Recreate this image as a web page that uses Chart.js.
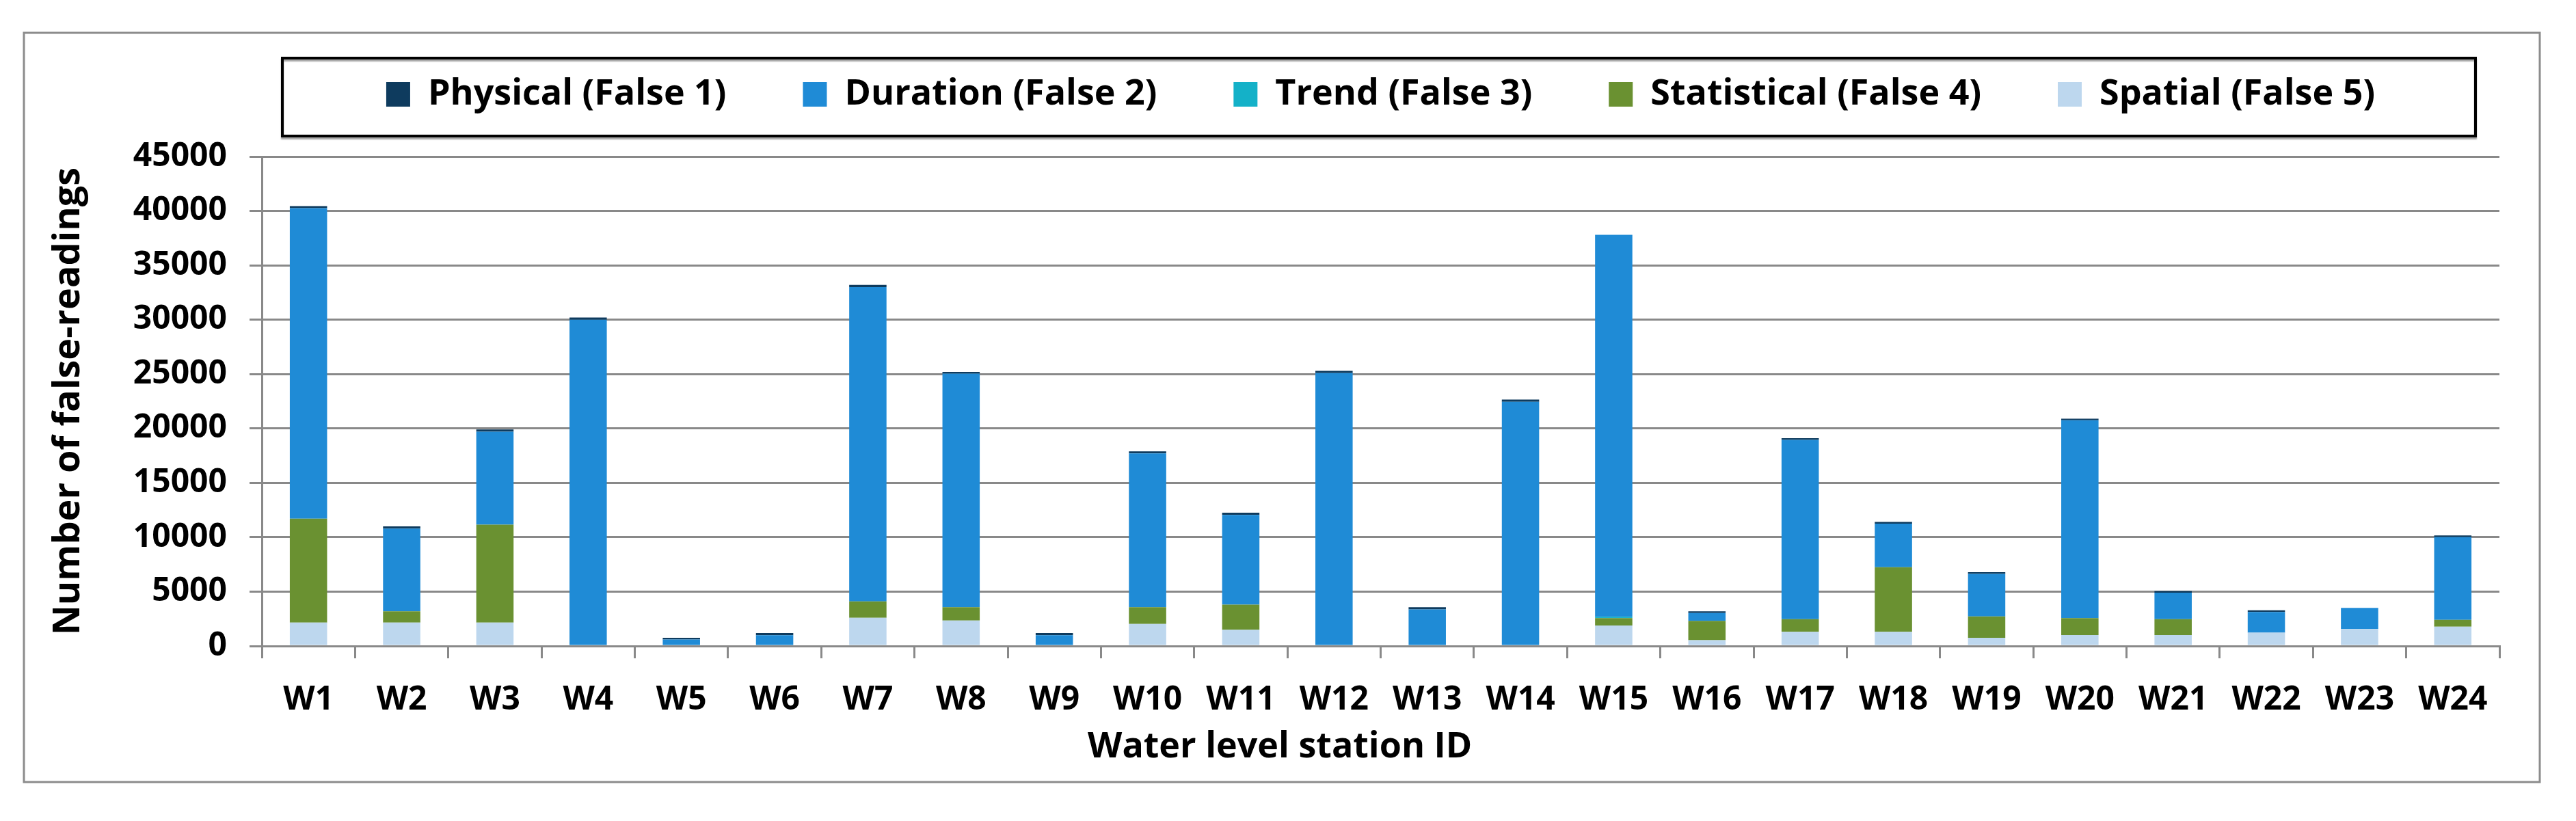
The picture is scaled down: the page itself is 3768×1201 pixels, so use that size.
<!DOCTYPE html>
<html>
<head>
<meta charset="utf-8">
<script src="https://cdn.jsdelivr.net/npm/chart.js@4"></script>
<style>
  body { margin: 0; background: #fff; }
  #wrap { position: relative; width: 3768px; height: 1201px; }
</style>
</head>
<body>
<div id="wrap"><canvas id="falseChart"></canvas></div>
<script>
// station IDs and the five false-reading counts
var stations = ["W1", "W2", "W3", "W4", "W5", "W6", "W7", "W8", "W9", "W10", "W11", "W12",
                "W13", "W14", "W15", "W16", "W17", "W18", "W19", "W20", "W21", "W22", "W23", "W24"];
var physical    = [200, 200, 200, 200, 150, 200, 200, 150, 200, 200, 200, 200, 200, 200, 0, 150, 150, 150, 150, 150, 150, 150, 0, 150];
var duration    = [28550, 7610, 8540, 30000, 600, 990, 28900, 21490, 990, 14140, 8240, 25100,
                   3360, 22460, 35120, 730, 16480, 4000, 3910, 18190, 2440, 1910, 1940, 7610];
var trend       = [0, 0, 0, 0, 0, 0, 0, 0, 0, 0, 0, 0, 0, 0, 120, 0, 0, 0, 0, 0, 0, 0, 0, 0];
var statistical = [9550, 1040, 9010, 0, 0, 0, 1500, 1220, 0, 1530, 2310, 0, 0, 0, 680, 1780, 1160, 5940, 1970, 1560, 1470, 0, 0, 620];
var spatial     = [2150, 2150, 2150, 0, 0, 0, 2600, 2340, 0, 2030, 1500, 0, 0, 0, 1880, 530, 1310, 1310, 750, 1000, 1000, 1220, 1560, 1780];

var yMax = 45000, yStep = 5000;
var gridColor = "#898989";

Chart.defaults.font.family = "'Open Sans', sans-serif";
Chart.defaults.color = "#000";

// white page, grey outer frame, black legend box and the x title
var framePlugin = {
    id: "frame",
    beforeDraw: function (chart) {
        var ctx = chart.ctx;
        var lg = chart.legend;
        ctx.save();
        ctx.fillStyle = "#fff";
        ctx.fillRect(0, 0, chart.width, chart.height);
        ctx.strokeStyle = "#8c8c8c";
        ctx.lineWidth = 3;
        ctx.strokeRect(35, 48, 3680, 1096);
        ctx.shadowColor = "rgba(0,0,0,0.35)";
        ctx.shadowOffsetY = 3;
        ctx.shadowBlur = 2;
        ctx.strokeStyle = "#000";
        ctx.lineWidth = 4;
        ctx.strokeRect(lg.left + 30, lg.top + 85, lg.width - 65, 114);
        ctx.restore();
    },
    afterDraw: function (chart) {
        var ctx = chart.ctx;
        var area = chart.chartArea;
        ctx.save();
        ctx.font = "bold 52px 'Open Sans', sans-serif";
        ctx.fillStyle = "#000";
        ctx.textAlign = "center";
        ctx.textBaseline = "middle";
        ctx.fillText("Water level station ID", area.left + (area.right - area.left) * 0.455, 1093);
        ctx.restore();
    }
};

function makeSet(label, data, color) {
    return {
        label: label,
        data: data,
        backgroundColor: color,
        borderWidth: 0,
        barPercentage: 0.4,
        categoryPercentage: 1.0
    };
}

// stacked bottom-up: spatial, statistical, trend, duration, physical
var falseChart = new Chart(document.getElementById("falseChart"), {
    type: "bar",
    data: {
        labels: stations,
        datasets: [
            makeSet("Spatial (False 5)", spatial, "#BDD7EE"),
            makeSet("Statistical (False 4)", statistical, "#6A9131"),
            makeSet("Trend (False 3)", trend, "#14B1C8"),
            makeSet("Duration (False 2)", duration, "#1F8BD6"),
            makeSet("Physical (False 1)", physical, "#0E3B5E")
        ]
    },
    options: {
        responsive: true,
        maintainAspectRatio: false,
        devicePixelRatio: 1,
        animation: false,
        layout: { padding: { left: 68, right: 112, top: 0, bottom: 0 } },
        plugins: {
            tooltip: { enabled: false },
            legend: {
                position: "top",
                fullSize: false,
                weight: 3000,
                reverse: true,
                labels: {
                    boxWidth: 35,
                    boxHeight: 36,
                    padding: 112,
                    color: "#000",
                    font: { size: 52, weight: "bold" }
                }
            },
            title: {
                display: true,
                text: "",
                font: { size: 10, lineHeight: 1 },
                padding: { top: 45, bottom: 0 }
            }
        },
        scales: {
            x: {
                stacked: true,
                grid: {
                    offset: true,
                    drawOnChartArea: false,
                    color: gridColor,
                    lineWidth: 3,
                    tickLength: 18
                },
                border: { color: gridColor, width: 3 },
                ticks: {
                    padding: 33,
                    color: "#000",
                    font: { size: 48, weight: "bold" },
                    maxRotation: 0,
                    autoSkip: false
                },
                afterFit: function (scale) { scale.height = 256; }
            },
            y: {
                stacked: true,
                min: 0,
                max: yMax,
                grid: {
                    color: gridColor,
                    lineWidth: 3,
                    tickLength: 18
                },
                border: { color: gridColor, width: 3 },
                ticks: {
                    stepSize: yStep,
                    padding: 33,
                    color: "#000",
                    font: { size: 48, weight: "bold" },
                    callback: function (value) { return String(value); }
                },
                title: {
                    display: true,
                    text: "Number of false-readings",
                    color: "#000",
                    font: { size: 54, weight: "bold" },
                    padding: { top: 0, bottom: 0 }
                },
                afterFit: function (scale) { scale.width = 315; }
            }
        }
    },
    plugins: [framePlugin]
});
</script>
</body>
</html>
